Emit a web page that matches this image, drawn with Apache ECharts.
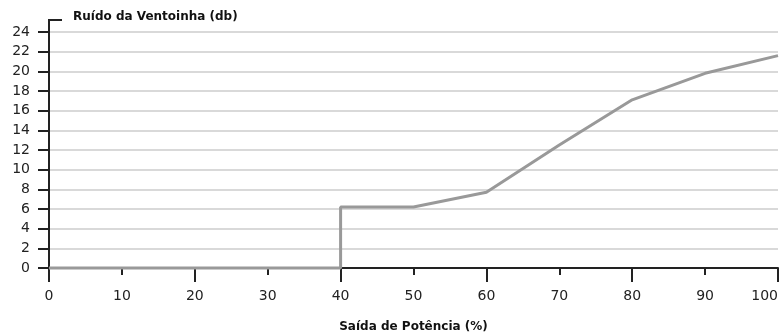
<!DOCTYPE html>
<html><head><meta charset="utf-8">
<script src="https://cdn.jsdelivr.net/npm/echarts@6/dist/echarts.min.js"></script>
<style>html,body{margin:0;padding:0;background:#fff}#c{width:780px;height:333px}</style>
</head><body><div id="c"></div>
<script>
const xValues = [0, 40, 40, 50, 60, 70, 80, 90, 100];
const yValues = [0, 0, 6.2, 6.2, 7.7, 12.5, 17.1, 19.8, 21.6];
const yTitle = 'Ruído da Ventoinha (db)';
const xTitle = 'Saída de Potência (%)';

const chart = echarts.init(document.getElementById('c'));
const font = '"DejaVu Sans", sans-serif';
chart.setOption({
  animation: false,
  grid: {left: 49, right: 2, top: 32, bottom: 65, containLabel: false, outerBoundsMode: 'none'},
  xAxis: [{
    type: 'value', min: 0, max: 100, interval: 10,
    axisLine: {show: true, lineStyle: {color: '#222', width: 2}},
    axisTick: {show: true, length: 7, lineStyle: {color: '#222', width: 2}},
    axisLabel: {color: '#222', fontSize: 14, fontFamily: font, margin: 21, alignMaxLabel: 'right'},
    splitLine: {show: false},
    name: xTitle, nameLocation: 'middle', nameGap: 53,
    nameTextStyle: {color: '#111', fontSize: 12, fontWeight: 'bold', fontFamily: font}
  }, {
    type: 'value', min: 0, max: 100, interval: 20, position: 'bottom',
    axisLine: {show: false},
    axisTick: {show: true, length: 14, lineStyle: {color: '#222', width: 2}},
    axisLabel: {show: false}, splitLine: {show: false}
  }],
  yAxis: {
    type: 'value', min: 0, max: 24, interval: 2,
    axisLine: {show: true, lineStyle: {color: '#222', width: 2}},
    axisTick: {show: true, length: 11, lineStyle: {color: '#222', width: 2}},
    axisLabel: {color: '#222', fontSize: 14, fontFamily: font, margin: 19},
    splitLine: {show: true, lineStyle: {color: '#d9d9d9', width: 2}}
  },
  series: [{
    type: 'line', xAxisIndex: 0, z: 5,
    data: xValues.map((x, i) => [x, yValues[i]]),
    symbol: 'none',
    lineStyle: {color: '#999999', width: 3},
    clip: false
  }]
});
const top24 = chart.convertToPixel({yAxisIndex: 0}, 24);
const x0 = chart.convertToPixel({xAxisIndex: 0}, 0);
chart.setOption({
  graphic: [{
    type: 'polyline', z: 10,
    shape: {points: [[x0, top24], [x0, top24 - 12], [x0 + 13, top24 - 12]]},
    style: {stroke: '#222', lineWidth: 2, fill: null}
  }, {
    type: 'text', left: x0 + 24, top: top24 - 21, z: 10,
    style: {text: yTitle, fill: '#111', font: 'bold 12px ' + font}
  }]
});
</script></body></html>
